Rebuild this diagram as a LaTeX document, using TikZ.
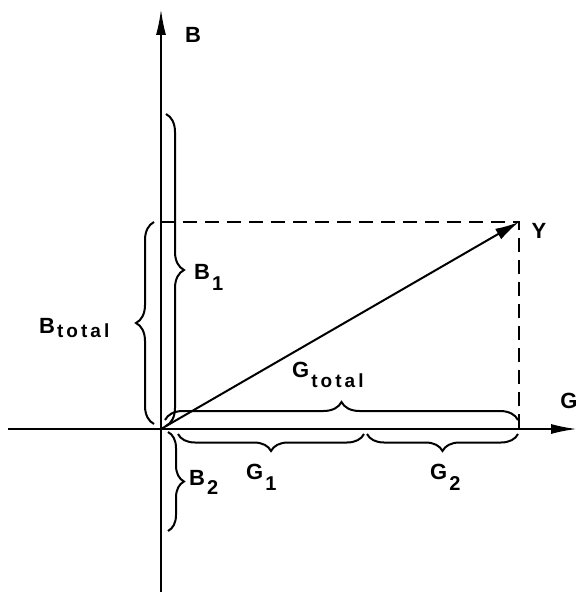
\documentclass[tikz,border=0pt]{standalone}
\usepackage{fontspec}
\setmainfont{Liberation Sans}
\usetikzlibrary{decorations.pathreplacing,arrows.meta}
\newcommand{\sublab}[3]{#1\kern2pt\raisebox{-#3pt}{\fontsize{20}{20}\selectfont #2}}
\newcommand{\totword}{{\fontsize{19}{19}\selectfont\addfontfeature{LetterSpace=16}total}}
\begin{document}
\begin{tikzpicture}[x=1pt,y=-1pt,
  axis/.style={line width=2pt,-{Latex[length=26pt,width=10pt]}},
  br/.style={line width=2pt,decorate,decoration={brace,amplitude=#1}},
  br/.default=18pt,
  lbl/.style={font=\bfseries\fontsize{22}{22}\selectfont, inner sep=0pt},
  dsh/.style={line width=2pt,dash pattern=on 14pt off 8pt}]
\useasboundingbox (0,0) rectangle (578,601);
\coordinate (O) at (161,429);
\coordinate (Btop) at (161,9);
\coordinate (Bbot) at (161,592);
\coordinate (Gleft) at (8,429);
\coordinate (Gright) at (577,429);
\coordinate (Yp) at (519,222);
\coordinate (YB) at (161,222);
\coordinate (YG) at (519,429);
% axes
\draw[axis] (Bbot) -- (Btop);
\draw[axis] (Gleft) -- (Gright);
% dashed
\draw[dsh] (YB) -- (Yp) -- (YG);
% resultant
\draw[line width=2pt,-{Latex[length=24pt,width=12pt]}] (O) -- (Yp);
% braces
\draw[br] (166,114) -- (166,426);
\draw[br] (154,424) -- (154,222);
\draw[br=16pt] (168,432) -- (168,531);
\draw[br] (165,420) -- (518,420);
\draw[br=17pt] (364,434) -- (178,434);
\draw[br=17pt] (518,434) -- (367,434);
% labels
\node[lbl] (Bl) at (193,35) {B};
\node[lbl] (Gl) at (569,401) {G};
\node[lbl] (Yl) at (539,231) {Y};
\node[lbl,anchor=base west] (B1l) at (194,279) {\sublab{B}{1}{11}};
\node[lbl,anchor=base west] (Btl) at (39,333) {\sublab{B}{\totword}{4}};
\node[lbl,anchor=base west] (B2l) at (189,485) {\sublab{B}{2}{9}};
\node[lbl,anchor=base west] (Gtl) at (292,377) {\sublab{G}{\totword}{10}};
\node[lbl,anchor=base west] (G1l) at (246,479) {\sublab{G}{1}{11}};
\node[lbl,anchor=base west] (G2l) at (430,479) {\sublab{G}{2}{11}};
\end{tikzpicture}
\end{document}
